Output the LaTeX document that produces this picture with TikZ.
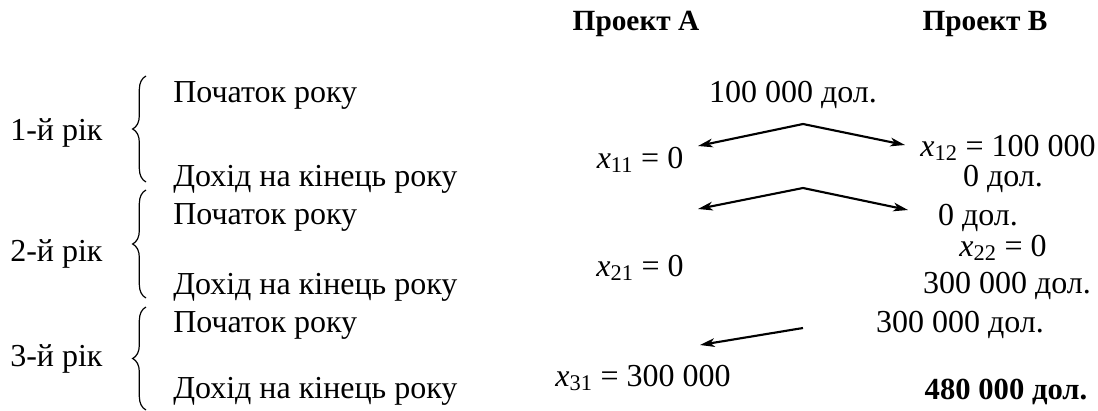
\documentclass[tikz,border=0pt]{standalone}
\usepackage{fontspec}
\setmainfont{Liberation Serif}
\usepackage{tikz}
\usetikzlibrary{arrows.meta,decorations.pathreplacing}

\begin{document}
\begin{tikzpicture}[x=0.75pt,y=-0.75pt,
  txt/.style={font=\fontsize{24}{28}\selectfont,inner sep=0pt,anchor=base},
  lft/.style={font=\fontsize{24}{28}\selectfont,inner sep=0pt,anchor=base west},
  hd/.style={inner sep=0pt,anchor=base,font=\fontsize{22}{26}\selectfont\bfseries},
  arr/.style={line width=1.6pt,{Stealth[length=11pt,width=6.5pt,inset=3pt]}-{Stealth[length=11pt,width=6.5pt,inset=3pt]}},
  arrl/.style={line width=1.6pt,-{Stealth[length=11pt,width=6.5pt,inset=3pt]}},
  brc/.style={line width=0.9pt,decorate,decoration={brace,amplitude=10pt}}]
  \useasboundingbox (0,0) rectangle (1098,410);
  % headings
  \node[hd] (pa) at (636,31) {Проект А};
  \node[hd] (pb) at (985,31) {Проект В};
  % years, left side
  \foreach \i/\y/\s/\d in {1/140/103/186, 2/261/224/294, 3/366/332/398} {
    \node[lft] (yr\i) at (10,\y) {\i-й рік};
    \node[lft] (st\i) at (173,\s) {Початок року};
    \node[lft] (dh\i) at (173,\d) {Дохід на кінець року};
  }
  \draw[brc] (146,182) -- (146,76);
  \draw[brc] (146,298) -- (146,190);
  \draw[brc] (146,410) -- (146,307);
  % project A / project B values
  \node[txt] (m1) at (793,103) {100 000 дол.};
  \node[txt] (x11) at (640,168) {\textit{x}\textsubscript{11} = 0};
  \node[txt] (x12) at (1008,156) {\textit{x}\textsubscript{12} = 100 000};
  \node[txt] (b1) at (1003,186) {0 дол.};
  \node[txt] (b2) at (978,225) {0 дол.};
  \node[txt] (x22) at (1003,256) {\textit{x}\textsubscript{22} = 0};
  \node[txt] (x21) at (640,276) {\textit{x}\textsubscript{21} = 0};
  \node[txt] (b3) at (1007,293) {300 000 дол.};
  \node[txt] (b4) at (960,332) {300 000 дол.};
  \node[txt] (x31) at (643,386) {\textit{x}\textsubscript{31} = 300 000};
  \node[hd,font=\fontsize{23}{27}\selectfont\bfseries] (tot) at (1006,399) {480 000 дол.};
  % flows
  \coordinate (t1) at (803,124);
  \coordinate (l1) at (698,146);
  \coordinate (r1) at (905,145);
  \coordinate (t2) at (803,188);
  \coordinate (l2) at (698,209);
  \coordinate (r2) at (908,210);
  \coordinate (t3) at (803,328);
  \coordinate (l3) at (700,345);
  \draw[arr] (l1) -- (t1) -- (r1);
  \draw[arr] (l2) -- (t2) -- (r2);
  \draw[arrl] (t3) -- (l3);
\end{tikzpicture}
\end{document}
